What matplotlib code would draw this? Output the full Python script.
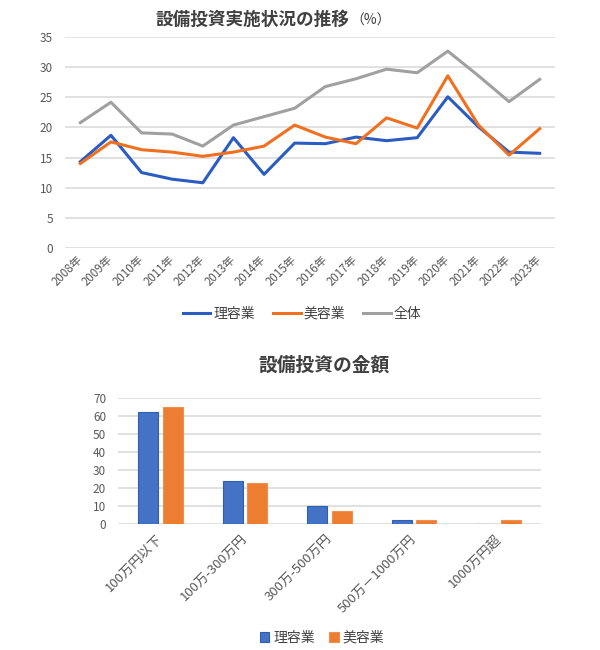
import matplotlib
matplotlib.use("Agg")
from matplotlib import pyplot as plt
import numpy as np

plt.rcParams['font.family'] = ['Noto Sans CJK JP', 'DejaVu Sans']

# data for the line chart (%)
years = ["2008年", "2009年", "2010年", "2011年", "2012年", "2013年", "2014年", "2015年",
         "2016年", "2017年", "2018年", "2019年", "2020年", "2021年", "2022年", "2023年"]
riyou = [14.3, 18.7, 12.5, 11.4, 10.8, 18.3, 12.2, 17.4, 17.3, 18.4, 17.8, 18.3, 25.1, 20.1, 15.9, 15.7]
biyou = [14.0, 17.6, 16.3, 15.9, 15.2, 15.9, 16.9, 20.4, 18.4, 17.3, 21.6, 19.9, 28.6, 20.4, 15.4, 19.8]
zentai = [20.8, 24.2, 19.1, 18.9, 16.9, 20.4, 21.8, 23.2, 26.8, 28.1, 29.7, 29.1, 32.7, 28.6, 24.3, 28.0]

# data for the bar chart
amounts = ["100万円以下", "100万-300万円", "300万-500万円", "500万－1000万円", "1000万円超"]
riyou_amt = [62.0, 23.7, 10.2, 2.6, 0]
biyou_amt = [64.8, 22.8, 7.6, 2.2, 2.2]

txt = '#595959'
grid = '#d9d9d9'
W, H = 600, 650

fig = plt.figure(figsize=(6, 6.5), dpi=100)

# top chart
ax1 = fig.add_axes([65/W, 1-247.7/H, 490/W, 210.4/H])
x = np.arange(len(years))
ax1.plot(x, riyou, color='#2a5cc2', lw=2.2, label='理容業')
ax1.plot(x, biyou, color='#f07020', lw=2.2, label='美容業')
ax1.plot(x, zentai, color='#a0a0a0', lw=2.2, label='全体')
ax1.set_xlim(-0.5, len(years)-0.5)
ax1.set_ylim(0, 35)
ax1.set_yticks(range(0, 36, 5))
ax1.set_xticks(x)
ax1.set_xticklabels(years, rotation=45, ha='right', va='center', rotation_mode='anchor',
                    fontsize=8.3, color=txt)
ax1.tick_params(axis='y', labelsize=8.5, colors=txt, length=0, pad=8.5)
ax1.tick_params(axis='x', length=0, pad=7)
ax1.grid(axis='y', color=grid, lw=1.1)
ax1.set_axisbelow(True)
for s in ax1.spines.values():
    s.set_visible(False)
ax1.legend(loc='center', bbox_to_anchor=(302/W, 1-314/H), bbox_transform=fig.transFigure,
           ncol=3, frameon=False, fontsize=10, handlelength=2.0, columnspacing=1.3,
           handletextpad=0.2, labelcolor='#404040')

fig.text(156/W, 1-20/H, "設備投資実施状況の推移", fontsize=12.7, fontweight='bold',
         color='#404040', ha='left', va='center')
fig.text(350/W, 1-21/H, "（%）", fontsize=10, color='#404040', ha='left', va='center')

# bottom chart
ax2 = fig.add_axes([118/W, 1-524.3/H, 423/W, 126.6/H])
xb = np.arange(len(amounts))
w = 0.236
ax2.bar(xb - 0.145, riyou_amt, w, color='#4472c4', edgecolor='#2f5fae', lw=0.8, label='理容業')
ax2.bar(xb + 0.145, biyou_amt, w, color='#ed7d31', edgecolor='#f09050', lw=0.8, label='美容業')
ax2.set_xlim(-0.5, len(amounts)-0.5)
ax2.set_ylim(0, 70)
ax2.set_yticks(range(0, 71, 10))
ax2.set_xticks(xb)
ax2.set_xticklabels(amounts, rotation=45, ha='right', va='center', rotation_mode='anchor',
                    fontsize=9.5, color=txt)
ax2.tick_params(axis='y', labelsize=8.5, colors=txt, length=0, pad=8.5)
ax2.tick_params(axis='x', length=0, pad=9)
ax2.grid(axis='y', color=grid, lw=1.1)
ax2.set_axisbelow(True)
for s in ax2.spines.values():
    s.set_visible(False)
ax2.legend(loc='center', bbox_to_anchor=(322/W, 1-638/H), bbox_transform=fig.transFigure,
           ncol=2, frameon=False, fontsize=10, handlelength=0.7, handleheight=0.7,
           columnspacing=1.0, handletextpad=0.3, labelcolor='#404040')

fig.text(324/W, 1-365/H, "設備投資の金額", fontsize=13.5, fontweight='bold',
         color='#404040', ha='center', va='center')

fig.savefig("out.png", dpi=100)
